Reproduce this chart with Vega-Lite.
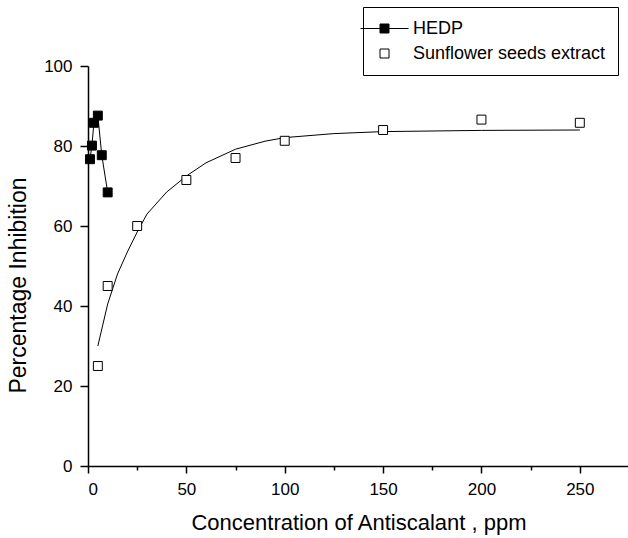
{
  "$schema": "https://vega.github.io/schema/vega-lite/v6.json",
  "width": 541,
  "height": 400,
  "autosize": {"type": "none"},
  "padding": {"left": 88, "top": 66, "right": 0, "bottom": 72},
  "background": "white",
  "config": {
    "view": {"stroke": null},
    "font": "Liberation Sans",
    "axis": {
      "domainColor": "black",
      "domainWidth": 1.5,
      "tickColor": "black",
      "tickWidth": 1.5,
      "labelColor": "black",
      "titleColor": "black",
      "labelFont": "Liberation Sans",
      "titleFont": "Liberation Sans",
      "labelFontSize": 17,
      "titleFontSize": 22,
      "titleFontWeight": "normal",
      "labelOverlap": false,
      "grid": false
    }
  },
  "datasets": {
    "pts": [
      {"conc": 1, "inhibition": 76.7, "series": "HEDP"},
      {"conc": 2, "inhibition": 80.1, "series": "HEDP"},
      {"conc": 3, "inhibition": 85.8, "series": "HEDP"},
      {"conc": 5, "inhibition": 87.6, "series": "HEDP"},
      {"conc": 7, "inhibition": 77.7, "series": "HEDP"},
      {"conc": 10, "inhibition": 68.4, "series": "HEDP"},
      {"conc": 5, "inhibition": 25, "series": "Sunflower seeds extract"},
      {"conc": 10, "inhibition": 45, "series": "Sunflower seeds extract"},
      {"conc": 25, "inhibition": 60, "series": "Sunflower seeds extract"},
      {"conc": 50, "inhibition": 71.5, "series": "Sunflower seeds extract"},
      {"conc": 75, "inhibition": 77, "series": "Sunflower seeds extract"},
      {"conc": 100, "inhibition": 81.3, "series": "Sunflower seeds extract"},
      {"conc": 150, "inhibition": 84, "series": "Sunflower seeds extract"},
      {"conc": 200, "inhibition": 86.6, "series": "Sunflower seeds extract"},
      {"conc": 250, "inhibition": 85.8, "series": "Sunflower seeds extract"}
    ],
    "fit": [
      {"conc": 5, "inhibition": 30},
      {"conc": 10, "inhibition": 40.5},
      {"conc": 15, "inhibition": 48},
      {"conc": 20, "inhibition": 53.5},
      {"conc": 25, "inhibition": 58.5},
      {"conc": 30, "inhibition": 63},
      {"conc": 40, "inhibition": 68.5},
      {"conc": 50, "inhibition": 72.5},
      {"conc": 60, "inhibition": 75.8},
      {"conc": 75, "inhibition": 79.2},
      {"conc": 90, "inhibition": 81.2},
      {"conc": 100, "inhibition": 82.1},
      {"conc": 125, "inhibition": 83.1},
      {"conc": 150, "inhibition": 83.6},
      {"conc": 200, "inhibition": 83.9},
      {"conc": 250, "inhibition": 84}
    ]
  },
  "layer": [
    {
      "data": {"name": "fit"},
      "mark": {"type": "line", "color": "black", "strokeWidth": 1},
      "encoding": {
        "x": {
          "field": "conc", "type": "quantitative",
          "scale": {"domain": [0, 275], "nice": false, "zero": false},
          "axis": {
            "orient": "bottom",
            "values": [0, 25, 50, 75, 100, 125, 150, 175, 200, 225, 250, 275],
            "labelExpr": "datum.value % 50 === 0 ? datum.label : ''",
            "tickSize": {"condition": {"test": "datum.value % 50 === 0", "value": 7}, "value": 4},
            "labelPadding": 8,
            "title": "Concentration of Antiscalant , ppm",
            "titlePadding": 15
          }
        },
        "y": {
          "field": "inhibition", "type": "quantitative",
          "scale": {"domain": [0, 100], "nice": false},
          "axis": {
            "orient": "left",
            "values": [0, 10, 20, 30, 40, 50, 60, 70, 80, 90, 100],
            "labelExpr": "datum.value % 20 === 0 ? datum.label : ''",
            "tickSize": {"condition": {"test": "datum.value % 20 === 0", "value": 8}, "value": 5},
            "labelPadding": 8,
            "title": "Percentage Inhibition",
            "titleFontSize": 23,
            "titlePadding": 13,
            "titleY": 219
          }
        }
      }
    },
    {
      "data": {"name": "pts"},
      "transform": [{"filter": "datum.series == 'HEDP'"}],
      "mark": {"type": "line", "color": "black", "strokeWidth": 1},
      "encoding": {
        "x": {"field": "conc", "type": "quantitative"},
        "y": {"field": "inhibition", "type": "quantitative"}
      }
    },
    {
      "data": {"name": "pts"},
      "mark": {"type": "point", "shape": "square", "filled": true, "size": 80, "stroke": "black", "strokeWidth": 1, "opacity": 1},
      "encoding": {
        "x": {"field": "conc", "type": "quantitative"},
        "y": {"field": "inhibition", "type": "quantitative"},
        "fill": {
          "field": "series", "type": "nominal",
          "scale": {"domain": ["HEDP", "Sunflower seeds extract"], "range": ["black", "white"]},
          "legend": {
            "title": null,
            "orient": "none",
            "legendX": 275,
            "legendY": -59,
            "strokeColor": "black",
            "padding": 12,
            "rowPadding": 6,
            "symbolSize": 324,
            "symbolType": {"expr": "datum.value === 'HEDP' ? 'M-2.67,0H2.67M-0.5,-0.5H0.5V0.5H-0.5Z' : 'M-0.5,-0.5H0.5V0.5H-0.5Z'"},
            "symbolStrokeColor": "black",
            "symbolStrokeWidth": 1,
            "labelOffset": 19,
            "labelFont": "Liberation Sans",
            "labelFontSize": 18,
            "labelColor": "black",
            "labelLimit": 400
          }
        }
      }
    }
  ]
}
